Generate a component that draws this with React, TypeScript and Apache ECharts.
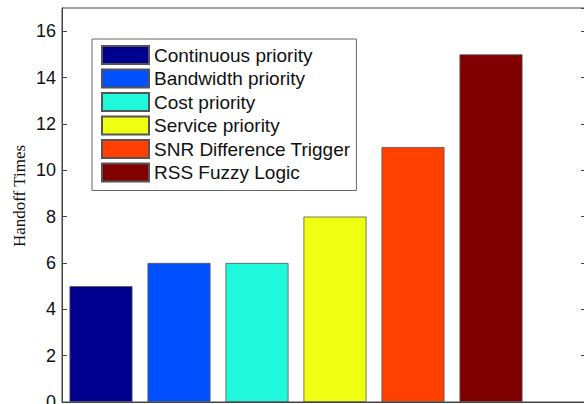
import React, { useEffect, useRef } from "react";
import * as echarts from "echarts";

const categories = ["1", "2", "3", "4", "5", "6", "7"];
const seriesNames = [
  "Continuous priority",
  "Bandwidth priority",
  "Cost priority",
  "Service priority",
  "SNR Difference Trigger",
  "RSS Fuzzy Logic",
];
const seriesValues = [5, 6, 6, 8, 11, 15];
const seriesColors = ["#00008F", "#0050FF", "#20F8DC", "#EEFF12", "#FF4000", "#800000"];
const yTicks = [0, 2, 4, 6, 8, 10, 12, 14, 16];
const yAxisTitle = "Handoff Times";

export default function App() {
  const ref = useRef<HTMLDivElement>(null);
  useEffect(() => {
    if (!ref.current) return;
    const chart = echarts.init(ref.current, undefined, { renderer: "svg" });
    const series = seriesNames.map((name, i) => ({
      name,
      type: "bar",
      barWidth: 63,
      barGap: "-100%",
      data: categories.map((_, j) => (j === i ? seriesValues[i] : null)),
      itemStyle: { color: seriesColors[i], borderColor: "#555", borderWidth: 0.8 },
    }));
    chart.setOption({
      animation: false,
      backgroundColor: "#ffffff",
      grid: {
        left: 62,
        top: 8,
        right: -24,
        bottom: 2,
        outerBoundsMode: "none",
        containLabel: false,
        show: true,
        borderColor: "#444",
        borderWidth: 1,
        backgroundColor: "transparent",
      },
      legend: {
        orient: "vertical",
        left: 92,
        top: 39,
        padding: [6, 6, 8, 9],
        itemWidth: 47,
        itemHeight: 18,
        itemGap: 3.5,
        backgroundColor: "#ffffff",
        borderColor: "#666",
        borderWidth: 1,
        borderRadius: 0,
        icon: "rect",
        data: seriesNames,
        textStyle: { fontFamily: "Liberation Sans", fontSize: 19, color: "#111" },
      },
      xAxis: {
        type: "category",
        data: categories,
        axisLine: { show: true, lineStyle: { color: "#444", width: 1 } },
        axisTick: { show: false },
        axisLabel: { show: false },
        splitLine: { show: false },
      },
      yAxis: [
        {
          type: "value",
          min: 0,
          max: 17,
          interval: 2,
          axisLine: { show: true, lineStyle: { color: "#444", width: 1 } },
          axisTick: { show: true, inside: true, length: 5, lineStyle: { color: "#444" } },
          axisLabel: {
            margin: 6,
            fontFamily: "Liberation Sans",
            fontSize: 18,
            color: "#111",
            showMaxLabel: false,
            formatter: (v: number) => (yTicks.includes(v) ? String(v) : ""),
          },
          splitLine: { show: false },
        },
        {
          type: "value",
          position: "right",
          offset: -22,
          min: 0,
          max: 17,
          interval: 2,
          axisLine: { show: false },
          axisTick: { show: true, inside: true, length: 5, lineStyle: { color: "#444" } },
          axisLabel: { show: false },
          splitLine: { show: false },
        },
      ],
      graphic: [
        {
          type: "text",
          x: 19,
          y: 196,
          rotation: Math.PI / 2,
          style: {
            text: yAxisTitle,
            fontFamily: "Liberation Serif",
            fontSize: 17,
            fill: "#111",
            align: "center",
            verticalAlign: "middle",
          },
        },
      ],
      series,
    });
    return () => chart.dispose();
  }, []);
  return (
    <div
      ref={ref}
      style={{ position: "fixed", left: 0, top: 0, width: 584, height: 404 }}
    />
  );
}
